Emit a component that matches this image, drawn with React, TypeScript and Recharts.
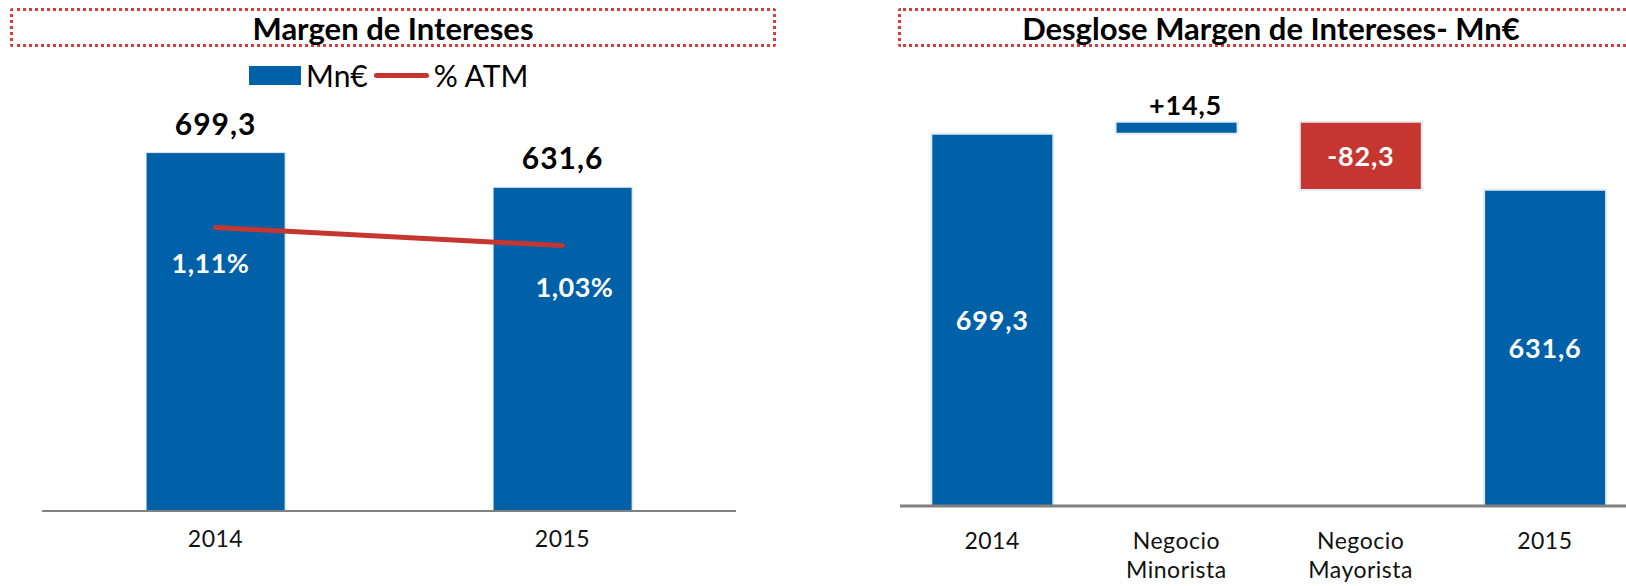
import React from "react";
import { ComposedChart, BarChart, Bar, Line, XAxis, YAxis, Cell, LabelList } from "recharts";

// left chart: margen de intereses
const years = ["2014", "2015"];
const margenMn = [699.3, 631.6];
const atmPct = [1.11, 1.03];

// right chart: desglose (waterfall)
const desgloseCats = ["2014", "Negocio\nMinorista", "Negocio\nMayorista", "2015"];
const desgloseValues = [699.3, 14.5, -82.3, 631.6];
const desgloseIsTotal = [true, false, false, true];

const BLUE = "#0060A8";
const RED = "#C4362F";
const FONT = "Lato, 'Open Sans', sans-serif";

const fmt = (v: number, digits = 1) => v.toFixed(digits).replace(".", ",");

const leftData = years.map((y, i) => ({ name: y, mn: margenMn[i], atm: atmPct[i] }));

let running = 0;
const rightData = desgloseCats.map((c, i) => {
  const v = desgloseValues[i];
  let range: number | number[];
  if (desgloseIsTotal[i]) {
    range = v;
    running = v;
  } else {
    const next = running + v;
    range = [Math.min(running, next), Math.max(running, next)];
    running = next;
  }
  return { name: c, range, value: v, total: desgloseIsTotal[i] };
});

const pctLabelShift = [
  { dx: -5, dy: 35 },
  { dx: 12, dy: 41 },
];

function Tick(props: any) {
  const { x, y, payload, firstDy } = props;
  const lines = String(payload.value).split("\n");
  return (
    <text x={x} y={y} textAnchor="middle" fill="#111" fontSize={23} fontFamily={FONT} letterSpacing={0.5}>
      {lines.map((l, i) => (
        <tspan key={i} x={x} dy={i === 0 ? firstDy : 29}>
          {l}
        </tspan>
      ))}
    </text>
  );
}

function PctLabel(props: any) {
  const { x, y, index, value } = props;
  const s = pctLabelShift[index] || { dx: 0, dy: 36 };
  return (
    <text x={x + s.dx} y={y + s.dy} textAnchor="middle" dominantBaseline="central" fill="#fff" fontSize={27} fontWeight={700} fontFamily={FONT} letterSpacing={0.5}>
      {fmt(value, 2) + "%"}
    </text>
  );
}

function WaterfallLabel(props: any) {
  const { x, y, width, height, index } = props;
  const d = rightData[index];
  if (!d) return null;
  const txt = d.total ? fmt(d.value) : (d.value > 0 ? "+" : "") + fmt(d.value);
  if (!d.total && d.value > 0) {
    return (
      <text x={x + width / 2 + 9} y={y - 17} textAnchor="middle" dominantBaseline="central" fill="#000" fontSize={27} fontWeight={700} fontFamily={FONT} letterSpacing={0.8}>
        {txt}
      </text>
    );
  }
  return (
    <text x={x + width / 2} y={y + height / 2} textAnchor="middle" dominantBaseline="central" fill="#fff" fontSize={27} fontWeight={700} fontFamily={FONT} letterSpacing={0.8}>
      {txt}
    </text>
  );
}

const titleBox: React.CSSProperties = {
  position: "absolute",
  top: 8,
  height: 33,
  border: "3px dotted #DC3A3A",
  borderRadius: 3,
  display: "flex",
  alignItems: "center",
  justifyContent: "center",
  fontFamily: FONT,
  fontWeight: 700,
  fontSize: 31,
  color: "#000",
  whiteSpace: "nowrap",
};

export default function App() {
  return (
    <div style={{ position: "fixed", left: 0, top: 0, width: 1626, height: 586, overflow: "hidden", background: "#fff" }}>
      <div style={{ ...titleBox, left: 10, width: 760 }}>Margen de Intereses</div>
      <div style={{ ...titleBox, left: 898, width: 740 }}>Desglose Margen de Intereses- Mn€</div>

      {/* legend */}
      <div style={{ position: "absolute", top: 57, left: 249, display: "flex", alignItems: "center", fontFamily: FONT, fontSize: 30, color: "#000" }}>
        <span style={{ display: "inline-block", width: 52, height: 19, background: BLUE, marginRight: 5 }} />
        <span>Mn€</span>
        <span style={{ display: "inline-block", width: 55, height: 5, background: RED, borderRadius: 3, margin: "0 5px 0 6px" }} />
        <span>% ATM</span>
      </div>

      <div style={{ position: "absolute", left: 0, top: 0 }}>
        <ComposedChart width={760} height={586} data={leftData} margin={{ top: 101, right: 24, left: 42, bottom: 45 }} barCategoryGap="30%">
          <XAxis dataKey="name" tickLine={false} axisLine={{ stroke: "#808080", strokeWidth: 2 }} height={30} tick={<Tick firstDy={28} />} interval={0} />
          <YAxis yAxisId="mn" hide domain={[0, 800]} allowDataOverflow />
          <YAxis yAxisId="pct" hide domain={[-0.148, 1.672]} allowDataOverflow />
          <Bar yAxisId="mn" dataKey="mn" fill={BLUE} stroke="#dbe6f1" strokeWidth={1} isAnimationActive={false}>
            <LabelList dataKey="mn" position="top" offset={18} formatter={(v: any) => fmt(Number(v))} style={{ fill: "#000", fontSize: 30, fontWeight: 700, fontFamily: FONT, letterSpacing: 1 }} />
          </Bar>
          <Line yAxisId="pct" dataKey="atm" stroke={RED} strokeWidth={5} strokeLinecap="round" dot={false} isAnimationActive={false} label={<PctLabel />} />
        </ComposedChart>
      </div>

      <div style={{ position: "absolute", left: 860, top: 0 }}>
        <BarChart width={800} height={586} data={rightData} margin={{ top: 100, right: 23, left: 40, bottom: 20 }} barCategoryGap="17%">
          <XAxis dataKey="name" tickLine={false} axisLine={{ stroke: "#808080", strokeWidth: 3 }} height={60} tick={<Tick firstDy={35} />} interval={0} />
          <YAxis hide domain={[250, 740]} allowDataOverflow />
          <Bar dataKey="range" stroke="#e3ebf4" strokeWidth={2} isAnimationActive={false}>
            {rightData.map((d, i) => (
              <Cell key={i} fill={d.value < 0 ? RED : BLUE} />
            ))}
            <LabelList dataKey="range" content={<WaterfallLabel />} />
          </Bar>
        </BarChart>
      </div>
    </div>
  );
}
